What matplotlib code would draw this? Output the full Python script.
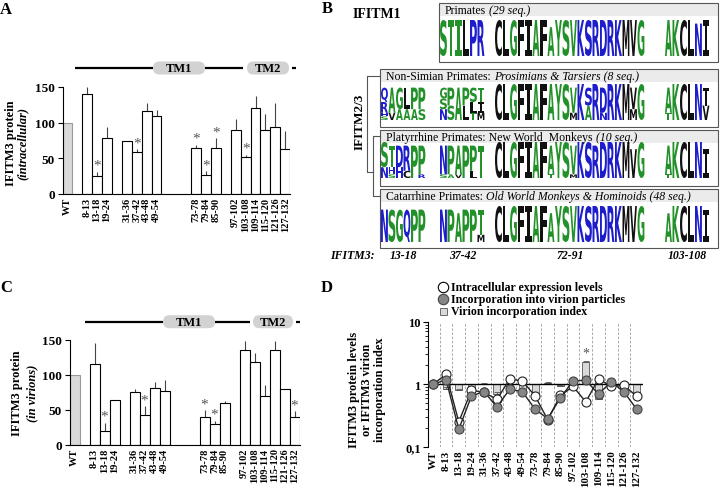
import re
import numpy as np
import matplotlib
matplotlib.use('Agg')
import matplotlib.pyplot as plt
from matplotlib.patches import Rectangle, FancyBboxPatch, PathPatch
from matplotlib.textpath import TextPath
from matplotlib.font_manager import FontProperties
from matplotlib.transforms import Affine2D
from matplotlib.ticker import NullFormatter

plt.rcParams['font.family'] = ['Liberation Serif', 'DejaVu Serif']
plt.rcParams['font.weight'] = 'bold'
plt.rcParams['axes.linewidth'] = 0.8

# ---------------- data ----------------
mutants = ['WT', '8-13', '13-18', '19-24', '31-36', '37-42', '43-48', '49-54',
           '73-78', '79-84', '85-90', '97-102', '103-108', '109-114', '115-120',
           '121-126', '127-132']

# panel A: intracellular levels (% of WT)
intra_mean = [100, 140, 25, 79, 74, 59, 116, 110, 64, 27, 65, 90, 52, 121, 90, 94, 63]
intra_err = [0, 10, 6, 15, 1, 4, 12, 8, 5, 5, 13, 15, 3, 16, 22, 33, 26]
intra_sig = ['13-18', '37-42', '73-78', '79-84', '85-90', '103-108']

# panel C: levels in virions (% of WT)
virion_mean = [100, 115, 19, 64, 76, 42, 81, 77, 39, 29, 60, 136, 118, 70, 135, 79, 39]
virion_err = [0, 30, 12, 0, 3, 13, 8, 15, 10, 5, 3, 12, 13, 15, 13, 0, 9]
virion_sig = ['13-18', '37-42', '73-78', '79-84', '127-132']

# panel D: fold of WT (log scale)
intra_fold = [1.00, 1.45, 0.25, 0.80, 0.74, 0.57, 1.20, 1.13, 0.65, 0.27, 0.66,
              0.92, 0.52, 1.22, 0.92, 0.96, 0.64]
virion_fold = [1.00, 1.18, 0.19, 0.65, 0.76, 0.43, 0.83, 0.76, 0.40, 0.28, 0.61,
               1.12, 1.16, 0.69, 1.10, 0.75, 0.40]
index_fold = [1.00, 0.85, 0.80, 0.82, 1.02, 0.70, 0.78, 0.70, 0.63, 1.05, 0.92,
              1.20, 2.25, 0.58, 1.15, 0.85, 0.63]
index_err = [0, 0.04, 0.04, 0.04, 0.03, 0.05, 0.05, 0.05, 0.05, 0.03, 0.04,
             0.06, 0.10, 0.08, 0.05, 0.25, 0.12]
index_sig = ['103-108']

# panel B: sequence logos (columns top letter first, digits = tenths of height)
logo_regions = ['13-18', '37-42', '72-91', '103-108']
logo_titles = ['Primates ', 'Non-Simian Primates: ', 'Platyrrhine Primates: New World  Monkeys ',
               'Catarrhine Primates: ']
logo_titles_it = ['(29 seq.)', 'Prosimians & Tarsiers (8 seq.)', '(10 seq.)',
                  'Old World Monkeys & Hominoids (48 seq.)']
logo_cols = [
    ['', 'S T I L P R',
     'C L G F I A F A8 Y S V K S R D R K M V G',
     'A K C L N9 I'],
    ['Q4R3H1S1 A7V2 G6A3 L6A3 P6A3 P6S3',
     'G3S3N3 P5S4 A9 P5L4 S4L3T2 T4I3M2',
     'C L G F I A F A Y S V7M2 K S5A4 R D7N2 R K M V6M3 G',
     'A7T2 K C L N T5V4'],
    ['S7N3 T6H2S1 D6H3 R7C2 P9 P8R1',
     'N8S1 P8A1 A8V1 P9 P7L2 T9',
     'C L G F I A F A8T1 Y S V8M1 K S R9 D R K M V8 G',
     'A8T1 K C L N I8'],
    ['N9 S9 G9 Q9 P9 P9',
     'N9 P9 A8 P9 P9 T7M2',
     'C L G F I A F A8 Y S V K S R D R K M V G',
     'A8 K C L N I9'],
]
top_colors = [
    ['', 'gggkbb', 'kkgkkgkggggbbbbbbkkg', 'ggkkbk'],
    ['', '', 'kkgkkgkggggbbbbbbkkg', 'ggkkbk'],
    ['', '', 'kkgkkgkggggbbbbbbkkg', 'ggkkbk'],
    ['', '', 'kkgkkgkggggbbbbbbkkg', 'ggkkbk'],
]

GREEN, BLUE, BLACK = '#23912a', '#1d1dcc', '#111111'
code_color = {'g': GREEN, 'b': BLUE, 'k': BLACK}
aa_color = {}
for aa in 'STGAYP':
    aa_color[aa] = GREEN
for aa in 'KRDHNQE':
    aa_color[aa] = BLUE
for aa in 'CLFIMVW':
    aa_color[aa] = BLACK

# ---------------- helpers ----------------
W, H = 720, 489


def px_axes(fig, left, top, right, bottom):
    return fig.add_axes([left / W, 1 - bottom / H, (right - left) / W, (bottom - top) / H])


slots = [0] + [(int(m.split('-')[0]) - 7) // 6 + 2 for m in mutants[1:]]


def bar_panel(ax, means, errs, sig):
    n = len(means)
    colors = ['#d9d9d9'] + ['white'] * (n - 1)
    edges = ['#9a9a9a'] + ['black'] * (n - 1)
    ax.errorbar(slots, means, yerr=[np.zeros(n), errs], fmt='none', ecolor='#444',
                elinewidth=0.8, capsize=0, zorder=1)
    ax.bar(slots, means, width=1.0, color=colors, edgecolor=edges, linewidth=0.8, zorder=2)
    for m in sig:
        i = mutants.index(m)
        ax.annotate('*', (slots[i], means[i] + errs[i]), xytext=(0, 0),
                    textcoords='offset points', ha='center', va='bottom',
                    fontsize=11, color='#555555', fontweight='normal')
    ax.set_xlim(-0.5, 22.5)
    ax.set_ylim(0, 150)
    ax.set_yticks([0, 50, 100, 150])
    ax.set_xticks(slots, mutants, rotation=90, fontsize=7.5)
    ax.tick_params(axis='x', length=0, pad=2)
    ax.tick_params(axis='y', direction='out', length=3.5, width=0.8, labelsize=9.5, pad=2)
    for s in ['top', 'right']:
        ax.spines[s].set_visible(False)


def tm_diagram(ov, y, segs, pills):
    for x0, x1 in segs:
        ov.plot([x0, x1], [y, y], color='black', lw=1.6, solid_capstyle='butt')
    for x0, x1, lab in pills:
        ov.add_patch(FancyBboxPatch((x0, y - 6.5), x1 - x0, 13,
                                    boxstyle='round,pad=0,rounding_size=6.5',
                                    fc='#d2d2d2', ec='none'))
        ov.text((x0 + x1) / 2, y + 0.5, lab, ha='center', va='center', fontsize=9)


FP_SANS = FontProperties(family='DejaVu Sans', weight='bold')
FP_MONO = FontProperties(family='DejaVu Sans Mono', weight='bold')


def draw_letter(ax, ch, x, ybot, w, h, color):
    fp = FP_MONO if ch == 'I' else FP_SANS
    tp = TextPath((0, 0), ch, size=10, prop=fp)
    bb = tp.get_extents()
    tr = Affine2D().translate(-bb.x0, -bb.y0).scale(w / bb.width, -h / bb.height).translate(x, ybot)
    ax.add_patch(PathPatch(tr.transform_path(tp), fc=color, ec='none', lw=0))


# ---------------- figure ----------------
fig = plt.figure(figsize=(7.2, 4.89), dpi=100)

# panel A
axa = px_axes(fig, 62.5, 88, 290.2, 195)
bar_panel(axa, intra_mean, intra_err, intra_sig)

# panel C
axc = px_axes(fig, 69.5, 340.7, 299.5, 445.7)
bar_panel(axc, virion_mean, virion_err, virion_sig)

# panel D
axd = px_axes(fig, 428.3, 322.7, 643, 447.7)
xd = np.arange(len(mutants))
axd.set_yscale('log')
for i in xd:
    axd.axvline(i + 0.5, color='#9a9a9a', ls=(0, (3, 2)), lw=0.6, zorder=0)
axd.bar(xd, np.array(index_fold) - 1, bottom=1, width=0.55, color='#d9d9d9',
        edgecolor='#555555', linewidth=0.6, zorder=2)
axd.errorbar(xd, index_fold, yerr=[np.zeros(len(xd)), index_err], fmt='none',
             ecolor='#555555', elinewidth=0.6, capsize=2, capthick=0.6, zorder=2)
axd.axhline(1, color='black', lw=1, zorder=3)
axd.plot(xd, intra_fold, '-o', color='#222222', lw=1, ms=6.5, mfc='white', mec='#222222',
         mew=0.8, zorder=4)
axd.plot(xd, virion_fold, '-o', color='#222222', lw=1, ms=6.5, mfc='#858585', mec='#444444',
         mew=0.8, zorder=5)
for m in index_sig:
    i = mutants.index(m)
    axd.annotate('*', (i, index_fold[i] + index_err[i]), xytext=(0, 1),
                 textcoords='offset points', ha='center', va='bottom',
                 fontsize=10, color='#555555', fontweight='normal')
axd.set_xlim(-0.4, 16.5)
axd.set_ylim(0.1, 10)
axd.set_yticks([0.1, 1, 10], ['0,1', '1', '10'])
axd.yaxis.set_minor_formatter(NullFormatter())
axd.set_xticks(xd, mutants, rotation=90, fontsize=7.8)
axd.tick_params(axis='x', length=0, pad=2)
axd.tick_params(axis='y', which='major', direction='out', length=3.5, width=0.8, labelsize=9, pad=2)
axd.tick_params(axis='y', which='minor', direction='out', length=2, width=0.6)
for s in ['top', 'right', 'bottom']:
    axd.spines[s].set_visible(False)

# overlay in pixel coordinates for annotations and logos
ov = fig.add_axes([0, 0, 1, 1])
ov.set_axis_off()
ov.set_autoscale_on(False)
ov.set_xlim(0, W)
ov.set_ylim(H, 0)

# panel letters
for lab, x, y in [('A', 6, 10), ('B', 327, 9), ('C', 6, 288), ('D', 327, 288)]:
    ov.text(x, y, lab, ha='center', va='center', fontsize=12)

# y labels A / C / D
ov.text(11, 143, 'IFITM3 protein', rotation=90, ha='center', va='center', fontsize=9)
ov.text(23, 143, '(intracellular)', rotation=90, ha='center', va='center', fontsize=9,
        fontstyle='italic')
ov.text(17.5, 393, 'IFITM3 protein', rotation=90, ha='center', va='center', fontsize=9)
ov.text(32, 393, '(in virions)', rotation=90, ha='center', va='center', fontsize=9,
        fontstyle='italic')
ov.text(367, 390, 'IFITM3 protein levels\nor IFITM3 virion\nincorporation index',
        rotation=90, ha='center', va='center', fontsize=8.8, multialignment='center',
        linespacing=1.15)

# TM diagrams
tm_diagram(ov, 69, [(75, 153), (205, 243), (292, 296)], [(153, 205, 'TM1'), (247, 289, 'TM2')])
tm_diagram(ov, 322.7, [(85, 163), (215, 250), (296, 300)], [(163, 215, 'TM1'), (253, 293, 'TM2')])

# panel D legend
ov.plot([443], [288], 'o', ms=7.5, mfc='white', mec='black', mew=0.8)
ov.plot([443], [300], 'o', ms=7.5, mfc='#858585', mec='#444444', mew=0.8)
ov.add_patch(Rectangle((439.5, 308.5), 7.5, 7.5, fc='#d9d9d9', ec='#555555', lw=0.6))
for y, t in [(288, 'Intracellular expression levels'),
             (300, 'Incorporation into virion particles'),
             (312, 'Virion incorporation index')]:
    ov.text(451, y, t, ha='left', va='center', fontsize=8.6)

# panel B
ov.text(353, 15, 'IFITM1', ha='left', va='center', fontsize=10)
ov.text(360, 122, 'IFITM2/3', rotation=90, ha='center', va='center', fontsize=9.5)
tree = dict(color='#555555', lw=0.8)
ov.plot([380, 367, 367, 373], [77, 77, 173, 173], **tree)
ov.plot([380, 373, 373, 380], [137, 137, 197, 197], **tree)

renderer = fig.canvas.get_renderer()
boxes = [(439, 4, 718, 63), (380, 70, 718, 128), (380, 131, 718, 187), (380, 190, 718, 249)]
row_tops = [21, 85, 143, 207]
row_h = 36
group_x = [381, 440, 495, 665]
col_w = 7.5
for b, (x0, y0, x1, y1) in enumerate(boxes):
    ov.add_patch(Rectangle((x0, y0), x1 - x0, 13, fc='#ebebeb', ec='none'))
    ov.add_patch(Rectangle((x0, y0), x1 - x0, y1 - y0, fc='none', ec='#555555', lw=0.8))
    t = ov.text(x0 + 6, y0 + 7, logo_titles[b].rstrip(), ha='left', va='center', fontsize=8.5,
                fontweight='normal')
    wpx = t.get_window_extent(renderer).width
    ov.text(x0 + 6 + wpx + 3, y0 + 7, logo_titles_it[b], ha='left', va='center', fontsize=8.5,
            fontweight='normal', fontstyle='italic')
    ybase = row_tops[b] + row_h
    for g, spec in enumerate(logo_cols[b]):
        for c, tok in enumerate(spec.split()):
            stack = [(ch, int(n) if n else 10) for ch, n in re.findall(r'([A-Z])(\d*)', tok)]
            xc = group_x[g] + c * col_w
            yb = ybase
            for k in range(len(stack) - 1, -1, -1):
                ch, n = stack[k]
                h = n / 10 * row_h
                col = aa_color[ch]
                if k == 0 and top_colors[b][g] and top_colors[b][g][c] in code_color:
                    col = code_color[top_colors[b][g][c]]
                draw_letter(ov, ch, xc, yb, col_w - 0.6, h, col)
                yb -= h

ov.text(330, 256, 'IFITM3:', ha='left', va='center', fontsize=8.5, fontstyle='italic')
ncols = [6, 6, 20, 6]
for g, lab in enumerate(logo_regions):
    ov.text(group_x[g] + ncols[g] * col_w / 2, 256, lab, ha='center', va='center',
            fontsize=8.5, fontstyle='italic')

fig.savefig('out.png', dpi=100)
